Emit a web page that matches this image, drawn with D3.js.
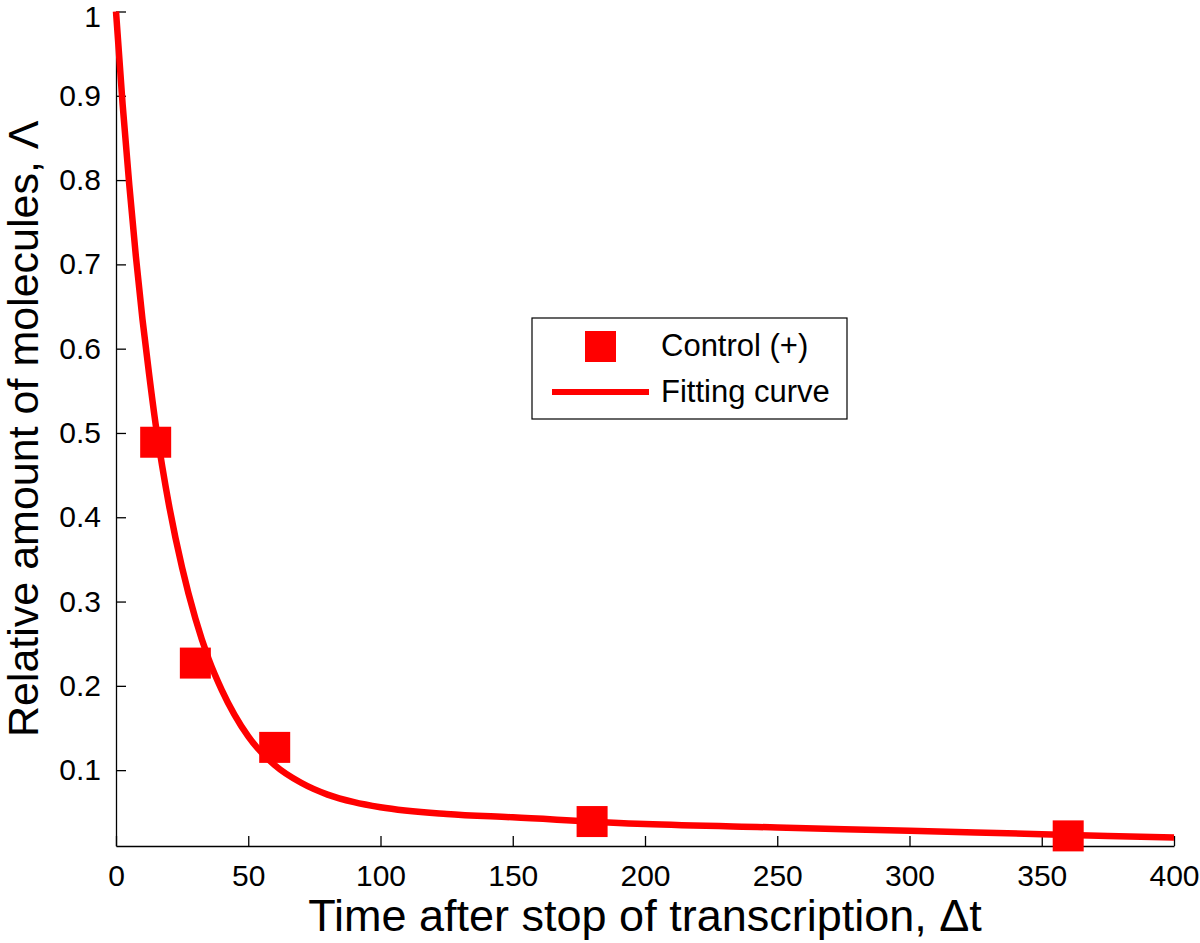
<!DOCTYPE html>
<html>
<head>
<meta charset="utf-8">
<script src="https://cdn.jsdelivr.net/npm/d3@7"></script>
<style>
  body { margin: 0; background: #fff; }
  text { font-family: "Liberation Sans", Arial, Helvetica, sans-serif; fill: #000; }
</style>
</head>
<body>
<script>
// measured points (Control (+))
const timePoints = [15, 30, 60, 180, 360];
const controlValues = [0.489, 0.227, 0.127, 0.039, 0.022];

// fitting curve
const fitTimes = [0, 2.5, 5, 7.5, 10, 12.5, 15, 17.5, 20, 25, 30, 35, 40, 50, 60, 70, 80, 90, 100, 125, 150, 200, 250, 300, 350, 400];
const fitValues = [1.0, 0.89, 0.795, 0.71, 0.635, 0.57, 0.51, 0.46, 0.415, 0.34, 0.28, 0.232, 0.195, 0.14, 0.106, 0.085, 0.071, 0.062, 0.056, 0.048, 0.044, 0.036, 0.032, 0.028, 0.024, 0.020];

// ticks
const xTicks = [0, 50, 100, 150, 200, 250, 300, 350, 400];
const xTickLabels = ["0", "50", "100", "150", "200", "250", "300", "350", "400"];
const yTicks = [0.1, 0.2, 0.3, 0.4, 0.5, 0.6, 0.7, 0.8, 0.9, 1];
const yTickLabels = ["0.1", "0.2", "0.3", "0.4", "0.5", "0.6", "0.7", "0.8", "0.9", "1"];

const legendLabels = ["Control (+)", "Fitting curve"];

const red = "#ff0000";
const margin = {top: 11.5, right: 26, bottom: 97, left: 116};
const width = 1200 - margin.left - margin.right;
const height = 943 - margin.top - margin.bottom;

const xScale = d3.scaleLinear().domain([0, 400]).range([0, width]);
const yScale = d3.scaleLinear().domain([0.01, 1]).range([height, 0]);

const svg = d3.select("body").append("svg")
    .attr("width", 1200)
    .attr("height", 943)
  .append("g")
    .attr("transform", `translate(${margin.left},${margin.top})`);

// axes, ticks point inward
const xAxis = d3.axisBottom(xScale)
    .tickValues(xTicks)
    .tickFormat((d, i) => xTickLabels[i])
    .tickSizeInner(-10)
    .tickSizeOuter(0)
    .tickPadding(19);
const yAxis = d3.axisLeft(yScale)
    .tickValues(yTicks)
    .tickFormat((d, i) => yTickLabels[i])
    .tickSizeInner(-10)
    .tickSizeOuter(0)
    .tickPadding(15);

const gx = svg.append("g")
    .attr("transform", `translate(0,${height})`)
    .call(xAxis);
const gy = svg.append("g").call(yAxis);

[gx, gy].forEach(g => {
  g.selectAll("path, line").attr("stroke", "#000").attr("stroke-width", 1.3);
  g.selectAll("text").style("font-size", "30px");
});
// keep the top label inside the page
gy.selectAll(".tick text").filter((d, i) => i === yTicks.length - 1).attr("dy", "0.5em");

// fitting curve
const line = d3.line()
    .x((d, i) => xScale(fitTimes[i]))
    .y(d => yScale(d))
    .curve(d3.curveMonotoneX);

svg.append("path")
    .datum(fitValues)
    .attr("fill", "none")
    .attr("stroke", red)
    .attr("stroke-width", 6.5)
    .attr("d", line);

// data squares
const sq = 31;
svg.selectAll("rect.pt")
    .data(controlValues)
    .enter().append("rect")
    .attr("class", "pt")
    .attr("x", (d, i) => xScale(timePoints[i]) - sq / 2)
    .attr("y", d => yScale(d) - sq / 2)
    .attr("width", sq)
    .attr("height", sq)
    .attr("fill", red);

// axis titles
svg.append("text")
    .attr("x", width / 2)
    .attr("y", height + 85)
    .attr("text-anchor", "middle")
    .style("font-size", "45px")
    .text("Time after stop of transcription, \u0394t");

svg.append("text")
    .attr("transform", `translate(${38 - margin.left},${height / 2}) rotate(-90)`)
    .attr("text-anchor", "middle")
    .style("font-size", "43px")
    .text("Relative amount of molecules,  \u039B");

// legend
const legend = svg.append("g")
    .attr("transform", `translate(${532 - margin.left},${318 - margin.top})`);

legend.append("rect")
    .attr("width", 315)
    .attr("height", 101)
    .attr("fill", "#fff")
    .attr("stroke", "#000")
    .attr("stroke-width", 1.2);

legend.append("rect")
    .attr("x", 68.5 - sq / 2)
    .attr("y", 28.5 - sq / 2)
    .attr("width", sq)
    .attr("height", sq)
    .attr("fill", red);

legend.append("line")
    .attr("x1", 20).attr("x2", 117)
    .attr("y1", 74).attr("y2", 74)
    .attr("stroke", red)
    .attr("stroke-width", 6);

legend.selectAll("text.lbl")
    .data(legendLabels)
    .enter().append("text")
    .attr("class", "lbl")
    .attr("x", 129)
    .attr("y", (d, i) => 38 + i * 46)
    .style("font-size", "31px")
    .text(d => d);
</script>
</body>
</html>
